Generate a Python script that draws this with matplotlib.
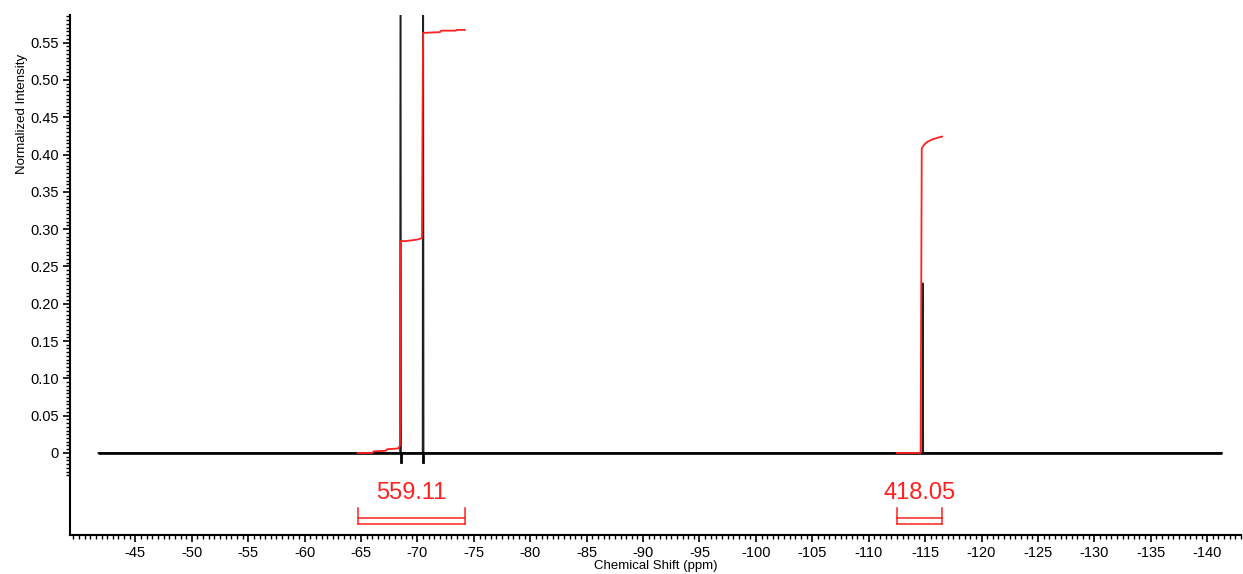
import matplotlib.pyplot as plt
from matplotlib.ticker import FixedLocator, MultipleLocator
import numpy as np

plt.rcParams["font.family"] = ["Liberation Sans", "DejaVu Sans"]
plt.rcParams["axes.unicode_minus"] = False

# Spectrum (black), ppm vs normalized intensity; big peaks run off-scale
spec_ppm = [-41.7, -68.45, -68.5, -68.55, -70.45, -70.5, -70.55, -114.74, -114.79,
            -114.84, -141.3]
spec_int = [0.0, 0.0, 1.0, 0.0, 0.0, 1.0, 0.0, 0.0, 0.228, 0.0, 0.0]

# small dips below the baseline at the big peaks
dip_ppm = [-68.5, -70.5]
dip_depth = [-0.012, -0.012]

# Integral curves (red)
int1_ppm = [-64.7, -66.0, -66.1, -67.2, -67.3, -68.3, -68.45, -68.5, -69.0, -70.0, -70.4,
            -70.45, -70.5, -72.0, -72.1, -73.4, -73.5, -74.2]
int1_val = [0.0, 0.0, 0.002, 0.003, 0.005, 0.006, 0.010, 0.284, 0.284, 0.286, 0.288,
            0.45, 0.563, 0.564, 0.566, 0.566, 0.567, 0.567]
int2_ppm = [-112.5, -114.6, -114.65, -114.7, -114.9, -115.2, -115.6, -116.0, -116.5]
int2_val = [0.0, 0.0, 0.20, 0.408, 0.413, 0.417, 0.420, 0.422, 0.424]

# Integration regions and values
regions = [(-64.7, -74.25), (-112.5, -116.5)]
int_labels = ["559.11", "418.05"]

fig = plt.figure(figsize=(12.43, 5.74), dpi=100)
ax = fig.add_axes([0.0563, 0.0679, 0.9421, 0.906])

ax.plot(spec_ppm, spec_int, color="#202020", linewidth=1.1, zorder=2,
        solid_joinstyle="miter")
ax.hlines(0, spec_ppm[0], spec_ppm[-1], color="black", linewidth=1.9, zorder=2)
for p, d in zip(dip_ppm, dip_depth):
    ax.plot([p, p], [0, d], color="black", linewidth=2.0, zorder=2)
ax.plot(int1_ppm, int1_val, color="#ff2020", linewidth=1.3, zorder=3)
ax.plot(int2_ppm, int2_val, color="#ff2020", linewidth=1.3, zorder=3)

for (x0, x1), lab in zip(regions, int_labels):
    ax.plot([x0, x0], [-0.074, -0.095], color="#ff2020", linewidth=1.1)
    ax.plot([x1, x1], [-0.074, -0.095], color="#ff2020", linewidth=1.1)
    ax.plot([x0, x1], [-0.087, -0.087], color="#ff2020", linewidth=1.1)
    ax.plot([x0, x1], [-0.095, -0.095], color="#ff2020", linewidth=1.1)
    ax.text((x0 + x1) / 2, -0.054, lab, color="#ff2020", fontsize=17,
            ha="center", va="center")

ax.set_xlim(-39.2, -143)
ax.set_ylim(-0.11, 0.587)

ax.set_xticks(np.arange(-45, -141, -5))
ax.set_xticklabels([str(v) for v in range(-45, -141, -5)])
ax.xaxis.set_minor_locator(MultipleLocator(0.5))

yt = [0, 0.05, 0.10, 0.15, 0.20, 0.25, 0.30, 0.35, 0.40, 0.45, 0.50, 0.55]
ax.set_yticks(yt)
ax.set_yticklabels(["0"] + [f"{v:.2f}" for v in yt[1:]])
ax.yaxis.set_minor_locator(FixedLocator(np.arange(-0.03, 0.5876, 0.005)))

ax.tick_params(axis="both", which="major", direction="out", length=5, width=1.2,
               labelsize=10.5, pad=3)
ax.tick_params(axis="both", which="minor", direction="out", length=3, width=1.0)

for s in ["top", "right"]:
    ax.spines[s].set_visible(False)
for s in ["left", "bottom"]:
    ax.spines[s].set_linewidth(1.5)

ax.set_xlabel("Chemical Shift (ppm)", fontsize=9.5, labelpad=0)
ax.set_ylabel("Normalized Intensity", fontsize=9.5)
ax.yaxis.set_label_coords(-0.036, 0.81)

fig.savefig("out.png", dpi=100)
